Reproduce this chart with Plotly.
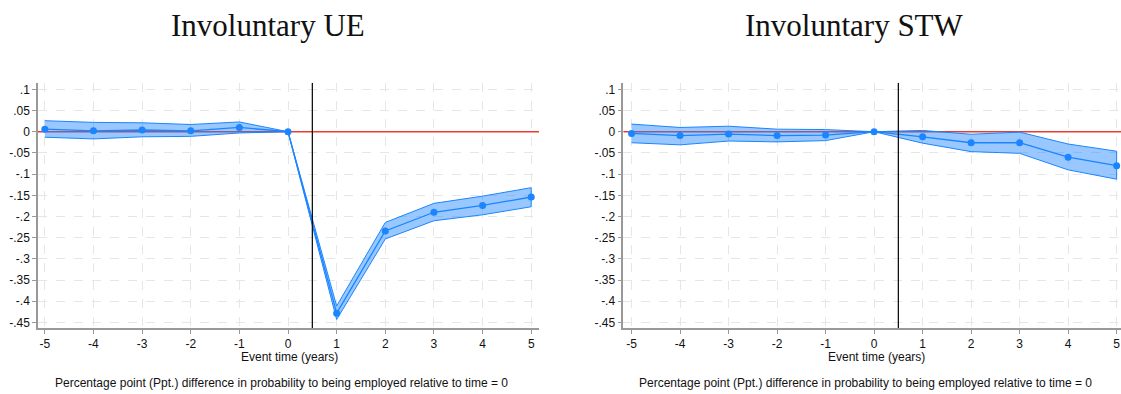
import plotly.graph_objects as go

event_time = [-5, -4, -3, -2, -1, 0, 1, 2, 3, 4, 5]

ue_coef = [0.006, 0.002, 0.004, 0.002, 0.010, 0.0, -0.428, -0.234, -0.190, -0.174, -0.154]
ue_upper = [0.026, 0.022, 0.021, 0.017, 0.023, 0.0, -0.411, -0.214, -0.169, -0.152, -0.132]
ue_lower = [-0.013, -0.017, -0.012, -0.011, -0.003, 0.0, -0.443, -0.253, -0.210, -0.196, -0.177]

stw_coef = [-0.004, -0.009, -0.0055, -0.009, -0.008, 0.0, -0.012, -0.026, -0.026, -0.060, -0.080]
stw_upper = [0.018, 0.010, 0.013, 0.006, 0.005, 0.0, 0.003, -0.006, -0.001, -0.029, -0.046]
stw_lower = [-0.026, -0.031, -0.022, -0.024, -0.021, 0.0, -0.027, -0.047, -0.051, -0.090, -0.112]

titles = ["Involuntary UE", "Involuntary STW"]
xlabel = "Event time (years)"
note = "Percentage point (Ppt.) difference in probability to being employed relative to time = 0"

y_tickvals = [0.1, 0.05, 0, -0.05, -0.1, -0.15, -0.2, -0.25, -0.3, -0.35, -0.4, -0.45]
y_ticktext = [".1", ".05", "0", "-.05", "-.1", "-.15", "-.2", "-.25", "-.3", "-.35", "-.4", "-.45"]
x_tickvals = [-5, -4, -3, -2, -1, 0, 1, 2, 3, 4, 5]
x_ticktext = ["-5", "-4", "-3", "-2", "-1", "0", "1", "2", "3", "4", "5"]

W, H = 1121, 394
BLUE = "rgb(26,133,255)"
FILL = "rgba(26,133,255,0.45)"

fig = go.Figure()

panels = [
    dict(coef=ue_coef, up=ue_upper, lo=ue_lower, xa="x", ya="y"),
    dict(coef=stw_coef, up=stw_upper, lo=stw_lower, xa="x2", ya="y2"),
]
for p in panels:
    fig.add_trace(go.Scatter(
        x=event_time + event_time[::-1],
        y=p["up"] + p["lo"][::-1],
        fill="toself", fillcolor=FILL,
        line=dict(color=BLUE, width=1),
        mode="lines", hoverinfo="skip", showlegend=False,
        xaxis=p["xa"], yaxis=p["ya"]))
    fig.add_trace(go.Scatter(
        x=event_time, y=p["coef"], mode="lines+markers",
        line=dict(color=BLUE, width=1.3),
        marker=dict(color=BLUE, size=7),
        showlegend=False, xaxis=p["xa"], yaxis=p["ya"]))

ydom = [(H - 328.3) / H, (H - 82.7) / H]
yrange = [-0.4637, 0.1156]

axis_common = dict(
    showline=True, linecolor="#999999", linewidth=1.5,
    ticks="outside", ticklen=4, tickcolor="#999999", tickwidth=1,
    showgrid=True, gridcolor="#e6e6e6", griddash="dash", gridwidth=1,
    zeroline=False, tickfont=dict(family="Liberation Sans, Arial", size=12, color="#111"),
)

fig.update_layout(
    width=W, height=H,
    margin=dict(l=0, r=0, t=0, b=0),
    paper_bgcolor="white", plot_bgcolor="white",
    xaxis=dict(domain=[38 / W, 539 / W], range=[-5.14, 5.16], anchor="y",
               tickvals=x_tickvals, ticktext=x_ticktext, **axis_common),
    yaxis=dict(domain=ydom, range=yrange, anchor="x",
               tickvals=y_tickvals, ticktext=y_ticktext, **axis_common),
    xaxis2=dict(domain=[623.3 / W, 1.0], range=[-5.17, 5.09], anchor="y2",
                tickvals=x_tickvals, ticktext=x_ticktext, **axis_common),
    yaxis2=dict(domain=ydom, range=yrange, anchor="x2",
                tickvals=y_tickvals, ticktext=y_ticktext, **axis_common),
)

for xr, yr, lx in [("x", "y", [-5.14, 5.16]), ("x2", "y2", [-5.17, 5.09])]:
    fig.add_shape(type="line", xref=xr, yref=yr, x0=lx[0], x1=lx[1], y0=0, y1=0,
                  line=dict(color="rgb(235,60,50)", width=1.5), layer="between")
    fig.add_shape(type="line", xref=xr, yref=yr, x0=0.5, x1=0.5, y0=yrange[0], y1=yrange[1],
                  line=dict(color="black", width=1.2), layer="above")

for cx, t in [(268, titles[0]), (854, titles[1])]:
    fig.add_annotation(x=cx / W, y=1 - 25 / H, xref="paper", yref="paper", text=t,
                       showarrow=False, xanchor="center", yanchor="middle",
                       font=dict(family="Liberation Serif, Times New Roman", size=31, color="#111"))
for cx in [289, 876]:
    fig.add_annotation(x=cx / W, y=1 - 357 / H, xref="paper", yref="paper", text=xlabel,
                       showarrow=False, xanchor="center", yanchor="middle",
                       font=dict(family="Liberation Sans, Arial", size=12, color="#111"))
for cx in [281, 866]:
    fig.add_annotation(x=cx / W, y=1 - 383 / H, xref="paper", yref="paper", text=note,
                       showarrow=False, xanchor="center", yanchor="middle",
                       font=dict(family="Liberation Sans, Arial", size=12, color="#111"))

fig.write_html("out.html")
